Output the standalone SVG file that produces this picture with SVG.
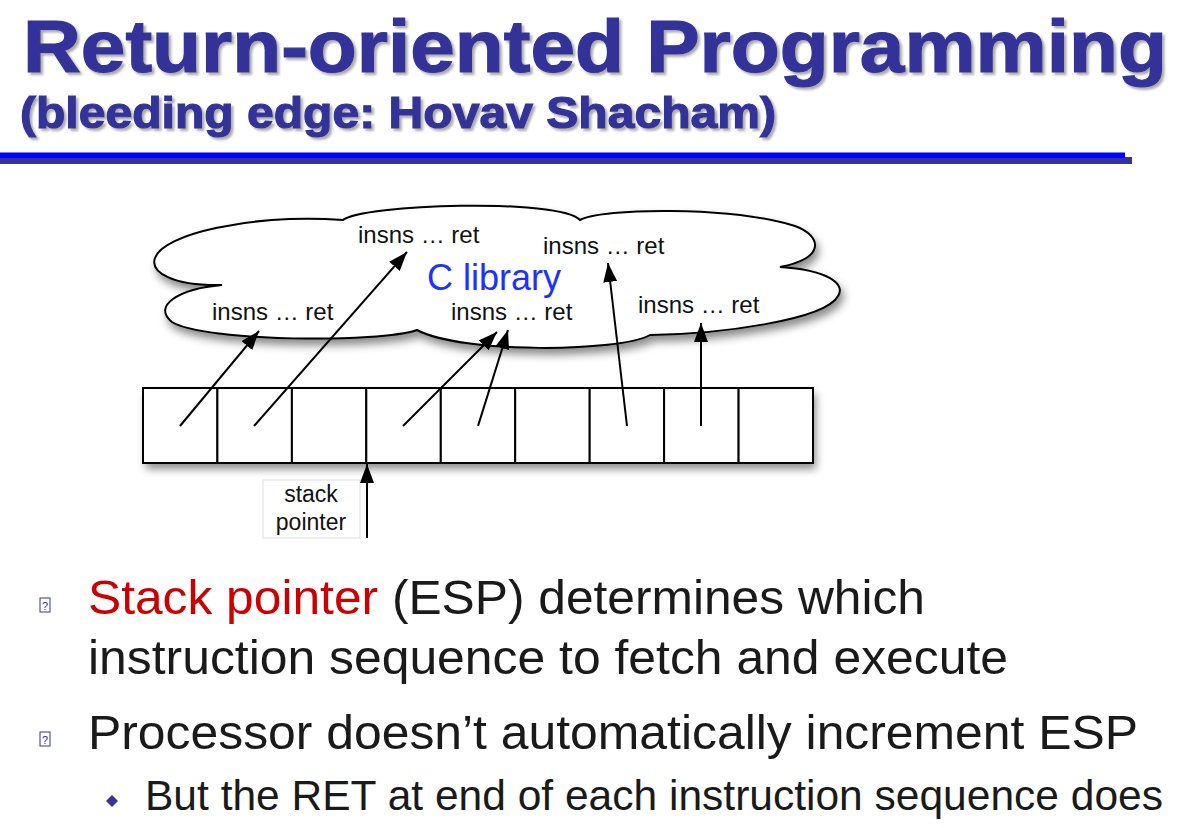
<svg xmlns="http://www.w3.org/2000/svg" width="1204" height="828" viewBox="0 0 1204 828">
<style>
.title{font-family:"Liberation Sans",Arial,sans-serif;font-weight:bold;fill:#333399;stroke:#333399;stroke-width:1.2}
.lbl{font-family:"Liberation Sans",Arial,sans-serif;font-size:24px;fill:#111}
.bul{font-family:"Liberation Sans",Arial,sans-serif;font-size:49px;fill:#1a1a1a}
.sub{font-family:"Liberation Sans",Arial,sans-serif;font-size:42px;fill:#1a1a1a}
.conn line{stroke:#000;stroke-width:2;marker-end:url(#ah)}
.cell{fill:#fff;stroke:#000;stroke-width:2}
</style>
<defs>
<filter id="ts" x="-5%" y="-20%" width="110%" height="150%"><feDropShadow dx="2.5" dy="2.5" stdDeviation="1" flood-color="#888" flood-opacity="0.7"/></filter>
<filter id="ds" x="-10%" y="-20%" width="125%" height="160%"><feDropShadow dx="3" dy="6" stdDeviation="4" flood-color="#000" flood-opacity="0.45"/></filter>
<marker id="ah" markerUnits="userSpaceOnUse" markerWidth="20" markerHeight="14" refX="19" refY="7" orient="auto"><path d="M0,0 L19,7 L0,14 z" fill="#000"/></marker>
</defs>
<rect width="1204" height="828" fill="#fff"/>
<g id="title" filter="url(#ts)">
<text class="title" x="23" y="72" font-size="74" textLength="1144" lengthAdjust="spacingAndGlyphs">Return-oriented Programming</text>
<text class="title" x="20" y="128" font-size="45" textLength="756" lengthAdjust="spacingAndGlyphs">(bleeding edge: Hovav Shacham)</text>
</g>
<g id="rule">
<rect x="0" y="157" width="1132" height="7" fill="#333399"/>
<rect x="0" y="152.5" width="1125" height="5.5" fill="#0000ff"/>
</g>
<g id="cloud">
<path filter="url(#ds)" fill="#fff" stroke="#000" stroke-width="2" d="M222,285 C172,286 150,272 155,258 C163,234 250,214 343,220 C362,204 560,198 580,220 C602,208 730,206 795,226 C822,236 826,258 780,267 C828,270 846,284 838,296 C825,320 720,334 650,335 C620,352 462,354 417,330 C380,343 205,342 172,322 C152,306 178,289 222,285 Z"/>
<text x="427" y="290" font-family="'Liberation Sans',Arial,sans-serif" font-size="36" fill="#1a33ff">C library</text>
</g>
<g id="gadget1"><text class="lbl" x="358" y="243">insns … ret</text></g>
<g id="gadget2"><text class="lbl" x="212" y="320">insns … ret</text></g>
<g id="gadget3"><text class="lbl" x="451" y="320">insns … ret</text></g>
<g id="gadget4"><text class="lbl" x="543" y="254">insns … ret</text></g>
<g id="gadget5"><text class="lbl" x="638" y="313">insns … ret</text></g>
<g id="stack">
<rect x="143" y="388" width="670" height="75" fill="#fff" filter="url(#ds)"/>
<rect class="cell" x="143" y="388" width="74.4" height="75"/>
<rect class="cell" x="217.4" y="388" width="74.5" height="75"/>
<rect class="cell" x="291.9" y="388" width="74.4" height="75"/>
<rect class="cell" x="366.3" y="388" width="74.5" height="75"/>
<rect class="cell" x="440.8" y="388" width="74.4" height="75"/>
<rect class="cell" x="515.2" y="388" width="74.5" height="75"/>
<rect class="cell" x="589.7" y="388" width="74.4" height="75"/>
<rect class="cell" x="664.1" y="388" width="74.5" height="75"/>
<rect class="cell" x="738.6" y="388" width="74.4" height="75"/>
</g>
<g id="sp-label">
<rect x="263" y="480" width="97" height="58" fill="#fff" stroke="#ddd" stroke-width="1"/>
<text x="311" y="502" text-anchor="middle" font-family="'Liberation Sans',Arial,sans-serif" font-size="23" fill="#111">stack</text>
<text x="311" y="530" text-anchor="middle" font-family="'Liberation Sans',Arial,sans-serif" font-size="23" fill="#111">pointer</text>
</g>
<g class="conn" id="connectors">
<line x1="180" y1="426" x2="259" y2="331"/>
<line x1="254" y1="426" x2="407" y2="252"/>
<line x1="403" y1="426" x2="497" y2="332"/>
<line x1="478" y1="426" x2="508" y2="330"/>
<line x1="627" y1="426" x2="608" y2="263"/>
<line x1="701" y1="426" x2="701" y2="323"/>
<line x1="367" y1="538" x2="367" y2="464"/>
</g>
<g id="bullets">
<rect x="40" y="598" width="10" height="14" fill="#fff" stroke="#333399" stroke-width="1"/>
<text x="45" y="610" text-anchor="middle" font-family="'Liberation Sans',Arial,sans-serif" font-size="11" fill="#333399">?</text>
<text class="bul" x="88" y="614" textLength="837" lengthAdjust="spacingAndGlyphs"><tspan fill="#cc0000">Stack pointer</tspan> (ESP) determines which</text>
<text class="bul" x="88" y="674" textLength="920" lengthAdjust="spacingAndGlyphs">instruction sequence to fetch and execute</text>
<rect x="40" y="732" width="10" height="14" fill="#fff" stroke="#333399" stroke-width="1"/>
<text x="45" y="744" text-anchor="middle" font-family="'Liberation Sans',Arial,sans-serif" font-size="11" fill="#333399">?</text>
<text class="bul" x="88" y="749" textLength="1050" lengthAdjust="spacingAndGlyphs">Processor doesn’t automatically increment ESP</text>
<path d="M112,795 L118,801 L112,807 L106,801 Z" fill="#333399"/>
<text class="sub" x="145" y="810" textLength="1018" lengthAdjust="spacingAndGlyphs">But the RET at end of each instruction sequence does</text>
</g>
</svg>
